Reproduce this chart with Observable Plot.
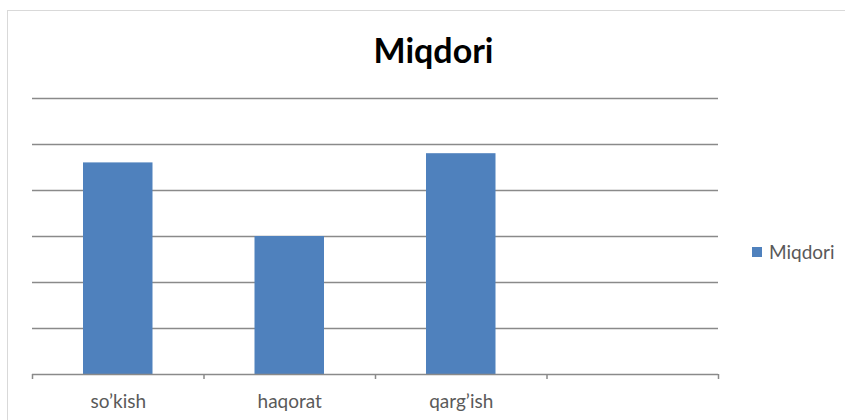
<!DOCTYPE html>
<html>
<head>
<meta charset="utf-8">
<script src="https://cdn.jsdelivr.net/npm/d3@7"></script>
<script src="https://cdn.jsdelivr.net/npm/@observablehq/plot@0.6"></script>
<style>
  html, body { margin: 0; padding: 0; background: #fff; }
  body { position: relative; width: 845px; height: 420px; overflow: hidden; font-family: Lato, sans-serif; }
  #frame { position: absolute; left: 7px; top: 10px; width: 900px; height: 500px; border-top: 1px solid #d9d9d9; border-left: 1px solid #d9d9d9; }
  #title { position: absolute; left: 0; top: 33px; width: 867px; text-align: center; font: bold 34px Lato, sans-serif; line-height: 1; color: #000; }
  #chart { position: absolute; left: 0; top: 80px; }
  #legend { position: absolute; left: 752px; top: 240px; display: flex; align-items: center; font: 19px Lato, sans-serif; color: #595959; }
  #legend .sw { width: 10px; height: 10px; margin-right: 7px; }
</style>
</head>
<body>
<div id="frame"></div>
<div id="title"></div>
<div id="chart"></div>
<div id="legend"></div>
<script>
const titleText = "Miqdori";
const seriesName = "Miqdori";
const categories = ["so’kish", "haqorat", "qarg’ish"];
const values = [4.6, 3.0, 4.8];
const slotCount = 4;
const slotTicks = [0, 1, 2, 3, 4];
const yTicks = [1, 2, 3, 4, 5, 6];
const barColor = "#4f81bd";
const gridColor = "#8a8a8a";

const data = categories.map((c, i) => ({c, i, v: values[i]}));

document.getElementById("title").textContent = titleText;

const chart = Plot.plot({
  width: 845,
  height: 340,
  marginLeft: 32,
  marginRight: 127,
  marginTop: 18,
  marginBottom: 46,
  style: {fontFamily: "Lato, sans-serif", background: "transparent", overflow: "visible"},
  x: {domain: [0, slotCount], axis: null},
  y: {domain: [0, 6], axis: null},
  marks: [
    Plot.ruleY(yTicks, {stroke: gridColor, strokeWidth: 1.5}),
    Plot.rectY(data, {x1: "i", x2: d => d.i + 1, y: "v", fill: barColor, insetLeft: 51, insetRight: 51}),
    Plot.ruleY([0], {stroke: gridColor, strokeWidth: 1.5}),
    Plot.axisX({ticks: slotTicks, tickSize: 5, tickFormat: () => "", stroke: gridColor, strokeWidth: 1.5, label: null}),
    Plot.text(data, {x: d => d.i + 0.5, y: 0, dy: 27, text: "c", lineAnchor: "middle", fontSize: 19, fill: "#5a5a5a"})
  ]
});
document.getElementById("chart").appendChild(chart);

const legend = document.getElementById("legend");
const sw = document.createElement("div");
sw.className = "sw";
sw.style.background = barColor;
const lt = document.createElement("span");
lt.textContent = seriesName;
legend.appendChild(sw);
legend.appendChild(lt);
</script>
</body>
</html>
